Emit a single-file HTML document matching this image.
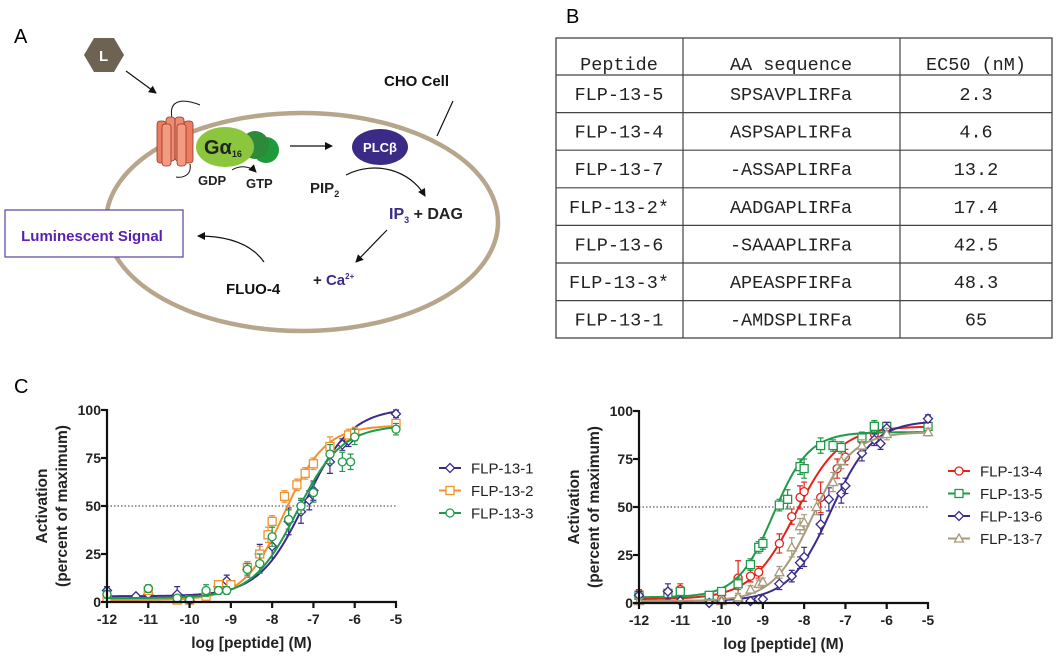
<!DOCTYPE html>
<html><head><meta charset="utf-8">
<style>
html,body{margin:0;padding:0;background:#fff;}
body{width:1056px;height:661px;position:relative;overflow:hidden;font-family:"Liberation Sans",sans-serif;}
svg{position:absolute;left:0;top:0;}
</style></head>
<body>
<svg id="fig" width="1056" height="661" viewBox="0 0 1056 661">
  <defs>
    <marker id="ah" markerWidth="8" markerHeight="8" refX="7" refY="4" orient="auto" markerUnits="userSpaceOnUse">
      <path d="M0,0 L8,4 L0,8 Z" fill="#111"/>
    </marker>
  </defs>
  <text x="14" y="43" font-size="20" font-family="Liberation Sans">A</text>
  <text x="566" y="23" font-size="20" font-family="Liberation Sans">B</text>
  <text x="14" y="393" font-size="20" font-family="Liberation Sans">C</text>

  <g>
    <ellipse cx="302" cy="222" rx="196" ry="109" fill="none" stroke="#b7a58c" stroke-width="4.5"/>
    <polygon points="84,55 94,38 114,38 124,55 114,72 94,72" fill="#6e6253"/>
    <text x="99" y="61" font-size="15" font-weight="bold" fill="#fff">L</text>
    <line x1="126" y1="71" x2="156" y2="93" stroke="#111" stroke-width="1.2" marker-end="url(#ah)"/>
    <g>
      <path d="M172,118 C168,98 185,99 200,105" fill="none" stroke="#111" stroke-width="1"/>
      <path d="M190,164 C192,176 182,178 176,177" fill="none" stroke="#111" stroke-width="1"/>
      <rect x="157" y="121" width="9" height="42" rx="3" fill="#ee7a60" stroke="#8a3a2a" stroke-width="0.8"/>
      <rect x="184" y="121" width="9" height="42" rx="3" fill="#ee7a60" stroke="#8a3a2a" stroke-width="0.8"/>
      <rect x="166" y="117" width="9" height="44" rx="3" fill="#f08a70" stroke="#8a3a2a" stroke-width="0.8"/>
      <rect x="175" y="117" width="9" height="44" rx="3" fill="#f08a70" stroke="#8a3a2a" stroke-width="0.8"/>
      <rect x="162" y="124" width="9" height="42" rx="3" fill="#f39a80" stroke="#8a3a2a" stroke-width="0.8"/>
      <rect x="177" y="124" width="9" height="42" rx="3" fill="#f39a80" stroke="#8a3a2a" stroke-width="0.8"/>
    </g>
    <circle cx="266" cy="150" r="13" fill="#1f9a3a"/>
    <circle cx="255" cy="145" r="14" fill="#2d8a3a"/>
    <ellipse cx="225" cy="147" rx="29" ry="20" fill="#8cc63f"/>
    <text x="204" y="154" font-size="20" font-weight="bold" fill="#222">Gα<tspan font-size="9" dy="3">16</tspan></text>
    <text x="198" y="185" font-size="13" font-weight="bold" fill="#222">GDP</text>
    <text x="246" y="188" font-size="13" font-weight="bold" fill="#222">GTP</text>
    <path d="M232,170 C240,165 250,166 256,172" fill="none" stroke="#111" stroke-width="1" marker-end="url(#ah)"/>
    <line x1="290" y1="146" x2="332" y2="146" stroke="#111" stroke-width="1.2" marker-end="url(#ah)"/>
    <ellipse cx="380" cy="147" rx="28" ry="18" fill="#3b2a86"/>
    <text x="380" y="152" font-size="13" font-weight="bold" fill="#fff" text-anchor="middle">PLCβ</text>
    <text x="310" y="193" font-size="15" font-weight="bold" fill="#222">PIP<tspan font-size="9" dy="4">2</tspan></text>
    <path d="M346,175 C375,160 410,170 425,196" fill="none" stroke="#111" stroke-width="1.2" marker-end="url(#ah)"/>
    <text x="389" y="219" font-size="16" font-weight="bold" fill="#3b2a86">IP<tspan font-size="9" dy="4">3</tspan><tspan dy="-4" fill="#222"> + DAG</tspan></text>
    <line x1="387" y1="230" x2="356" y2="262" stroke="#111" stroke-width="1.2" marker-end="url(#ah)"/>
    <text x="313" y="285" font-size="15" font-weight="bold" fill="#222">+ <tspan fill="#3b2a86">Ca</tspan><tspan fill="#3b2a86" font-size="8" dy="-6">2+</tspan></text>
    <text x="226" y="294" font-size="15" font-weight="bold" fill="#111">FLUO-4</text>
    <path d="M264,262 C252,245 230,236 198,236" fill="none" stroke="#111" stroke-width="1.2" marker-end="url(#ah)"/>
    <rect x="5" y="210" width="178" height="47" fill="#fff" stroke="#5b3fa0" stroke-width="1.2"/>
    <text x="92" y="241" font-size="15" font-weight="bold" fill="#5b1fb0" text-anchor="middle" font-family="Liberation Sans">Luminescent Signal</text>
    <text x="384" y="86" font-size="15" font-weight="bold" fill="#111">CHO Cell</text>
    <line x1="453" y1="101" x2="437" y2="136" stroke="#111" stroke-width="1.2"/>
  </g>

  <g font-family="Liberation Mono" font-size="18.5" fill="#222">
    <rect x="556" y="38" width="496" height="300" fill="none" stroke="#444" stroke-width="1.3"/>
    <line x1="683" y1="38" x2="683" y2="338" stroke="#444" stroke-width="1.2"/>
    <line x1="900" y1="38" x2="900" y2="338" stroke="#444" stroke-width="1.2"/>
    <g id="tablerows"></g>
  </g>

  <g id="chartL"></g>
  <g id="chartR"></g>
</svg>
<script>
const tblPeptides = ["FLP-13-5","FLP-13-4","FLP-13-7","FLP-13-2*","FLP-13-6","FLP-13-3*","FLP-13-1"];
const tblSequences = ["SPSAVPLIRFa","ASPSAPLIRFa","-ASSAPLIRFa","AADGAPLIRFa","-SAAAPLIRFa","APEASPFIRFa","-AMDSPLIRFa"];
const tblEC50 = ["2.3","4.6","13.2","17.4","42.5","48.3","65"];

const xL1 = [-12,-11.3,-11,-10.3,-10,-9.3,-9.1,-8.6,-8.3,-8,-7.6,-7.3,-7.1,-7,-6.6,-6.3,-6.15,-6,-5];
const yL1 = [6,3,4,4,1,8,11,17,25,29,42,47,53,58,73,82,84,87,98];
const eL1 = [2,1,2,4,1,2,3,4,5,6,7,6,5,5,6,3,3,3,2];
const xL2 = [-12,-11,-10.3,-10,-9.6,-9.3,-9,-8.6,-8.3,-8.1,-8,-7.7,-7.4,-7.2,-7,-6.6,-6.15,-6,-5];
const yL2 = [2,6,1,1,3,9,9,18,25,35,42,55,61,67,72,81,87,88,93];
const eL2 = [1,2,1,1,2,2,2,3,4,4,3,3,3,3,3,5,3,3,2];
const xL3 = [-12,-11,-10.3,-10,-9.6,-9.3,-9.1,-8.6,-8.3,-8,-7.6,-7.3,-7,-6.6,-6.3,-6.1,-6,-5];
const yL3 = [4,7,2,1,6,6,6,17,20,34,43,50,57,77,73,73,86,90];
const eL3 = [2,2,1,1,3,2,2,3,5,5,5,4,5,5,5,4,4,3];
const fitL1 = [3,101,-7.2,0.78];
const fitL2 = [1,92,-7.7,0.88];
const fitL3 = [2,92,-7.4,0.8];

const xR4 = [-12,-11.3,-11,-10.3,-10,-9.6,-9.3,-9.1,-8.6,-8.3,-8.1,-8,-7.6,-7.2,-7,-6.6,-6.3,-6,-5];
const yR4 = [5,5,7,1,2,13,14,16,31,45,55,58,55,70,76,85,88,90,92];
const eR4 = [2,2,3,1,1,9,3,3,5,4,6,5,8,5,4,3,3,3,2];
const xR5 = [-12,-11.3,-11,-10.3,-10,-9.6,-9.3,-9.1,-9,-8.6,-8.4,-8.1,-8,-7.6,-7.3,-7.1,-6.6,-6.3,-6,-5];
const yR5 = [4,5,6,4,6,10,20,29,31,51,54,71,70,82,82,81,86,92,92,92];
const eR5 = [2,2,2,1,2,3,3,3,3,3,5,4,5,4,3,3,3,3,2,2];
const xR6 = [-12,-11.3,-11,-10.3,-10,-9.6,-9.3,-9.1,-9,-8.6,-8.3,-8.1,-8,-7.6,-7.4,-7.1,-7,-6.6,-6.3,-6.15,-6,-5];
const yR6 = [4,6,1,0,1,1,1,2,2,10,14,21,24,41,54,57,61,78,85,83,91,96];
const eR6 = [2,4,1,1,1,1,1,1,1,3,3,3,5,5,6,5,4,4,3,3,3,2];
const xR7 = [-12,-10,-9.6,-9.3,-9.1,-9,-8.6,-8.3,-8.1,-8,-7.7,-7.3,-7.1,-6.6,-6,-5];
const yR7 = [1,1,3,7,10,11,16,29,40,42,50,63,74,82,88,89];
const eR7 = [1,1,2,2,2,2,3,5,4,4,4,5,4,3,3,2];
const fitR4 = [2,92,-8.2,0.8];
const fitR5 = [3,89,-8.75,1.0];
const fitR6 = [1,95,-7.35,0.85];
const fitR7 = [1,89,-7.8,0.9];

const xTicks = [-12,-11,-10,-9,-8,-7,-6,-5];
const yTicks = [0,25,50,75,100];
const NS = "http://www.w3.org/2000/svg";
function mk(tag, attrs, parent){const e=document.createElementNS(NS,tag);for(const k in attrs)e.setAttribute(k,attrs[k]);parent.appendChild(e);return e;}

(function(){
  const g=document.getElementById('tablerows');
  const cx=[619,791,976];
  const hdr=["Peptide","AA sequence","EC50 (nM)"];
  hdr.forEach((h,i)=>{const t=mk('text',{x:cx[i],y:70,'text-anchor':'middle'},g);t.textContent=h;
    
    });
  for(let r=0;r<tblPeptides.length;r++){
    const top=75+r*37.6;
    mk('line',{x1:556,x2:1052,y1:top,y2:top,stroke:'#444','stroke-width':1.2},g);
    [tblPeptides[r],tblSequences[r],tblEC50[r]].forEach((v,i)=>{
      const t=mk('text',{x:cx[i],y:top+25,'text-anchor':'middle'},g);t.textContent=v;
      
      
    });
  }
})();

function marker(g,type,x,y,color){
  const a={fill:'#fff',stroke:color,'stroke-width':1.3};
  let m;
  if(type==='diamond'){a.points=`${x},${y-4.5} ${x+4.5},${y} ${x},${y+4.5} ${x-4.5},${y}`;m=mk('polygon',a,g);}
  else if(type==='square'){a.x=x-4;a.y=y-4;a.width=8;a.height=8;m=mk('rect',a,g);}
  else if(type==='circle'){a.cx=x;a.cy=y;a.r=4;m=mk('circle',a,g);}
  else {a.points=`${x},${y-4.5} ${x+4.5},${y+3.5} ${x-4.5},${y+3.5}`;m=mk('polygon',a,g);}
  return m;
}

function drawChart(gid, x0, x1, y0, y1, series, legX, legY, ylabX){
  const g=document.getElementById(gid);
  const sx=v=>x0+(v+12)/7*(x1-x0);
  const sy=v=>y0-(v/100)*(y0-y1);
  mk('line',{x1:sx(-12),x2:sx(-5),y1:sy(50),y2:sy(50),stroke:'#333','stroke-width':1,'stroke-dasharray':'1.5,2'},g);
  series.forEach(s=>{
    const sg=mk('g',{},g);
    
    
    let d='';
    for(let i=0;i<=200;i++){const lx=-12+7*i/200;const f=s.fit;const yv=f[0]+(f[1]-f[0])/(1+Math.pow(10,(f[2]-lx)*f[3]));d+=(i?'L':'M')+sx(lx).toFixed(2)+','+sy(yv).toFixed(2);}
    const c=mk('path',{d:d,fill:'none',stroke:s.color,'stroke-width':2},sg);
    
    
    s.x.forEach((xv,i)=>{
      const px=sx(xv),py=sy(s.y[i]),e=s.e[i];
      const eb=mk('path',{d:`M${px},${sy(s.y[i]+e)}V${sy(s.y[i]-e)}M${px-3},${sy(s.y[i]+e)}H${px+3}M${px-3},${sy(s.y[i]-e)}H${px+3}`,stroke:s.color,'stroke-width':1.2,fill:'none'},sg);
      
      
      const m=marker(sg,s.mk,px,py,s.color);
      
      
    });
    const ly=legY+series.indexOf(s)*22.5;
    const lg=mk('g',{},g);
    
    
    mk('line',{x1:legX,x2:legX+22,y1:ly,y2:ly,stroke:s.color,'stroke-width':2},lg);
    marker(lg,s.mk,legX+11,ly,s.color);
    const lt=mk('text',{x:legX+32,y:ly+5.5,'font-size':15,fill:'#222'},lg);lt.textContent=s.name;
  });
  const ax=mk('g',{stroke:'#111','stroke-width':2.2},g);
  
  
  mk('line',{x1:x0,x2:x0,y1:y1-1,y2:y0+1},ax);
  mk('line',{x1:x0-1,x2:x1+1,y1:y0,y2:y0},ax);
  xTicks.forEach(t=>{mk('line',{x1:sx(t),x2:sx(t),y1:y0,y2:y0+6},ax);
    const tx=mk('text',{x:sx(t),y:y0+22,'text-anchor':'middle','font-size':14,'font-weight':'bold',fill:'#222'},g);tx.textContent=t;
    
    });
  yTicks.forEach(t=>{mk('line',{x1:x0-6,x2:x0,y1:sy(t),y2:sy(t)},ax);
    const tx=mk('text',{x:x0-6,y:sy(t)+5,'text-anchor':'end','font-size':14,'font-weight':'bold',fill:'#222'},g);tx.textContent=t;
    
    });
  const xl=mk('text',{x:(x0+x1)/2,y:y0+46,'text-anchor':'middle','font-size':15.5,'font-weight':'bold',fill:'#222'},g);xl.textContent='log [peptide] (M)';
  
  
  const yc=(y0+y1)/2;
  const yl=mk('text',{x:ylabX,y:yc,'text-anchor':'middle','font-size':15.5,'font-weight':'bold',fill:'#222',transform:`rotate(-90 ${ylabX} ${yc})`},g);
  
  
  const t1=mk('tspan',{x:ylabX,dy:0},yl);t1.textContent='Activation';
  const t2=mk('tspan',{x:ylabX,dy:20},yl);t2.textContent='(percent of maximum)';
}

drawChart('chartL',107,396,602,410,[
  {name:'FLP-13-1',color:'#3b2b8a',mk:'diamond',x:xL1,y:yL1,e:eL1,fit:fitL1},
  {name:'FLP-13-2',color:'#f0922d',mk:'square',x:xL2,y:yL2,e:eL2,fit:fitL2},
  {name:'FLP-13-3',color:'#1f9a4a',mk:'circle',x:xL3,y:yL3,e:eL3,fit:fitL3}
],439,468,47);

drawChart('chartR',639,928,603,411,[
  {name:'FLP-13-4',color:'#e2231a',mk:'circle',x:xR4,y:yR4,e:eR4,fit:fitR4},
  {name:'FLP-13-5',color:'#1f9a4a',mk:'square',x:xR5,y:yR5,e:eR5,fit:fitR5},
  {name:'FLP-13-6',color:'#3b2b8a',mk:'diamond',x:xR6,y:yR6,e:eR6,fit:fitR6},
  {name:'FLP-13-7',color:'#a89a7a',mk:'triangle',x:xR7,y:yR7,e:eR7,fit:fitR7}
],948,471,579);
</script>
</body></html>
